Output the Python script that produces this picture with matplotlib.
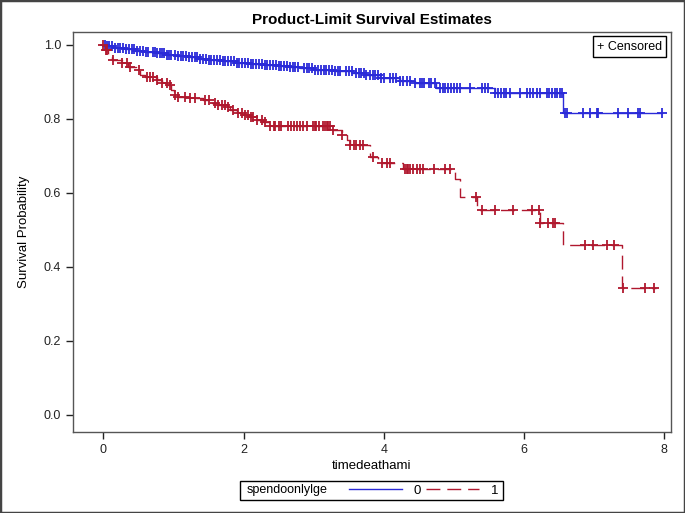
import numpy as np
import matplotlib
matplotlib.use("Agg")
import matplotlib.pyplot as plt
from matplotlib.patches import Rectangle
from matplotlib.lines import Line2D

plt.rcParams["font.family"] = ["Liberation Sans", "DejaVu Sans"]

# Kaplan-Meier step points (time of event, survival after event) and censoring times
blue_time = [0, 0.05, 0.15, 0.3, 0.45, 0.6, 0.75, 0.9, 1.05, 1.2, 1.35, 1.5, 1.7, 1.9,
             2.1, 2.3, 2.5, 2.65, 2.8, 3.0, 3.3, 3.55, 3.75, 3.95, 4.23, 4.45, 4.75, 5.59, 6.56]
blue_surv = [1.0, 0.996, 0.992, 0.988, 0.984, 0.980, 0.977, 0.974, 0.971, 0.967, 0.963,
             0.959, 0.956, 0.952, 0.949, 0.946, 0.943, 0.940, 0.937, 0.933, 0.929, 0.924,
             0.919, 0.912, 0.902, 0.896, 0.883, 0.869, 0.817]
blue_end = 7.97
blue_cens = [0.02, 0.05, 0.08, 0.12, 0.16, 0.2, 0.24, 0.28, 0.32, 0.36, 0.4, 0.44, 0.48,
             0.52, 0.56, 0.6, 0.64, 0.7, 0.73, 0.76, 0.8, 0.83, 0.86, 0.9, 0.93, 0.96,
             1.02, 1.06, 1.1, 1.14, 1.18, 1.22, 1.26, 1.3, 1.34, 1.38, 1.42, 1.46, 1.5,
             1.54, 1.58, 1.62, 1.66, 1.7, 1.74, 1.78, 1.82, 1.86, 1.9, 1.94, 1.98, 2.02,
             2.06, 2.1, 2.14, 2.18, 2.22, 2.26, 2.3, 2.34, 2.38, 2.42, 2.46, 2.5, 2.54,
             2.58, 2.62, 2.66, 2.7, 2.74, 2.78, 2.86, 2.9, 2.94, 2.98, 3.02, 3.06, 3.1,
             3.14, 3.18, 3.22, 3.26, 3.3, 3.34, 3.38, 3.46, 3.5, 3.54, 3.6, 3.64, 3.67,
             3.72, 3.75, 3.8, 3.84, 3.88, 3.92, 3.96, 4.0, 4.09, 4.13, 4.17, 4.23, 4.28,
             4.33, 4.37, 4.45, 4.52, 4.54, 4.57, 4.64, 4.68, 4.73, 4.80, 4.84, 4.88,
             4.92, 4.96, 5.0, 5.05, 5.09, 5.23, 5.40, 5.44, 5.49, 5.59, 5.63, 5.67,
             5.71, 5.75, 5.80, 5.94, 6.04, 6.09, 6.13, 6.18, 6.23, 6.33, 6.36, 6.40,
             6.44, 6.47, 6.51, 6.54, 6.58, 6.61, 6.85, 6.94, 7.04, 7.06, 7.35, 7.49,
             7.63, 7.66, 7.97]

red_time = [0, 0.02, 0.07, 0.12, 0.26, 0.35, 0.47, 0.52, 0.59, 0.76, 0.83, 0.92, 0.97,
            1.0, 1.07, 1.23, 1.42, 1.52, 1.64, 1.76, 1.81, 1.9, 2.0, 2.09, 2.16, 2.28,
            2.38, 3.26, 3.40, 3.47, 3.52, 3.80, 3.92, 4.28, 5.02, 5.09, 5.33, 6.23,
            6.56, 7.40]
red_surv = [1.0, 0.986, 0.973, 0.959, 0.95, 0.941, 0.932, 0.919, 0.914, 0.905, 0.896,
            0.892, 0.878, 0.865, 0.860, 0.856, 0.851, 0.842, 0.838, 0.833, 0.824, 0.815,
            0.811, 0.806, 0.797, 0.793, 0.782, 0.770, 0.757, 0.743, 0.730, 0.698, 0.682,
            0.664, 0.637, 0.590, 0.554, 0.518, 0.459, 0.342]
red_end = 7.89
red_cens = [0.0, 0.03, 0.05, 0.14, 0.26, 0.33, 0.38, 0.5, 0.62, 0.66, 0.71, 0.76, 0.83,
            0.9, 0.95, 1.02, 1.07, 1.16, 1.23, 1.31, 1.45, 1.5, 1.59, 1.64, 1.69, 1.73,
            1.78, 1.85, 1.92, 1.97, 2.02, 2.06, 2.1, 2.14, 2.19, 2.26, 2.31, 2.38, 2.43,
            2.45, 2.5, 2.54, 2.64, 2.68, 2.72, 2.76, 2.8, 2.85, 2.9, 2.99, 3.02, 3.04,
            3.07, 3.13, 3.16, 3.19, 3.21, 3.23, 3.28, 3.4, 3.52, 3.57, 3.61, 3.66, 3.71,
            3.85, 3.97, 4.04, 4.09, 4.3, 4.33, 4.35, 4.37, 4.42, 4.47, 4.52, 4.56, 4.71,
            4.88, 4.95, 5.31, 5.40, 5.59, 5.85, 6.11, 6.21, 6.23, 6.35, 6.42, 6.44,
            6.87, 6.99, 7.18, 7.28, 7.42, 7.73, 7.85]

BLUE = "#2a2ad8"
RED = "#b0182e"
DASH = (0, (10, 5))


def surv_at(times, surv, t):
    idx = np.searchsorted(times, t, side="right") - 1
    return np.asarray(surv)[idx]


fig = plt.figure(figsize=(6.85, 5.13), dpi=100)
ax = fig.add_axes([0.1066, 0.158, 0.873, 0.7796])

# blue group (0)
bx = blue_time + [blue_end]
by = blue_surv + [blue_surv[-1]]
ax.step(bx, by, where="post", color=BLUE, lw=1)
ax.plot(blue_cens, surv_at(blue_time, blue_surv, blue_cens), ls="none", marker="+",
        ms=7, mew=1.3, color=BLUE)

# red group (1)
rx = red_time + [red_end]
ry = red_surv + [red_surv[-1]]
ax.step(rx, ry, where="post", color=RED, lw=1, ls=DASH)
ax.plot(red_cens, surv_at(red_time, red_surv, red_cens), ls="none", marker="+",
        ms=7, mew=1.3, color=RED)

ax.set_xlim(-0.435, 8.1)
ax.set_ylim(-0.046, 1.035)
ax.set_xticks([0, 2, 4, 6, 8])
ax.set_yticks([0.0, 0.2, 0.4, 0.6, 0.8, 1.0])
ax.set_yticklabels(["0.0", "0.2", "0.4", "0.6", "0.8", "1.0"])
ax.tick_params(direction="out", length=5, width=1, labelsize=9, colors="#222222")
for sp in ax.spines.values():
    sp.set_color("#555555")
    sp.set_linewidth(1)

ax.set_xlabel("timedeathami", fontsize=9.5, labelpad=3)
ax.set_ylabel("Survival Probability", fontsize=9.5, labelpad=10)
ax.set_title("Product-Limit Survival Estimates", fontsize=11, fontweight="bold", pad=6)

ax.text(0.985, 0.978, "+ Censored", transform=ax.transAxes, ha="right", va="top",
        fontsize=9, bbox=dict(boxstyle="square,pad=0.35", fc="white", ec="black", lw=1))

# bottom legend
fig.patches.append(Rectangle((240 / 685, 1 - 500 / 513), 263 / 685, 19 / 513,
                             transform=fig.transFigure, fill=False, ec="black", lw=1))
fig.text(247 / 685, 1 - 490.5 / 513, "spendoonlylge", fontsize=9, va="center", ha="left")
handles = [Line2D([], [], color=BLUE, lw=1), Line2D([], [], color=RED, lw=1, ls=DASH)]
fig.legend(handles, ["0", "1"], ncol=2, frameon=False, fontsize=9.5,
           loc="center left", bbox_to_anchor=(349 / 685, 1 - 490.5 / 513),
           handlelength=4.0, handletextpad=0.9, columnspacing=0.4, borderpad=0,
           borderaxespad=0)

# outer frame
fig.patches.append(Rectangle((0, 0), 1, 1, transform=fig.transFigure, fill=False,
                             ec="#444444", lw=2.5))

fig.savefig("out.png", dpi=100)
